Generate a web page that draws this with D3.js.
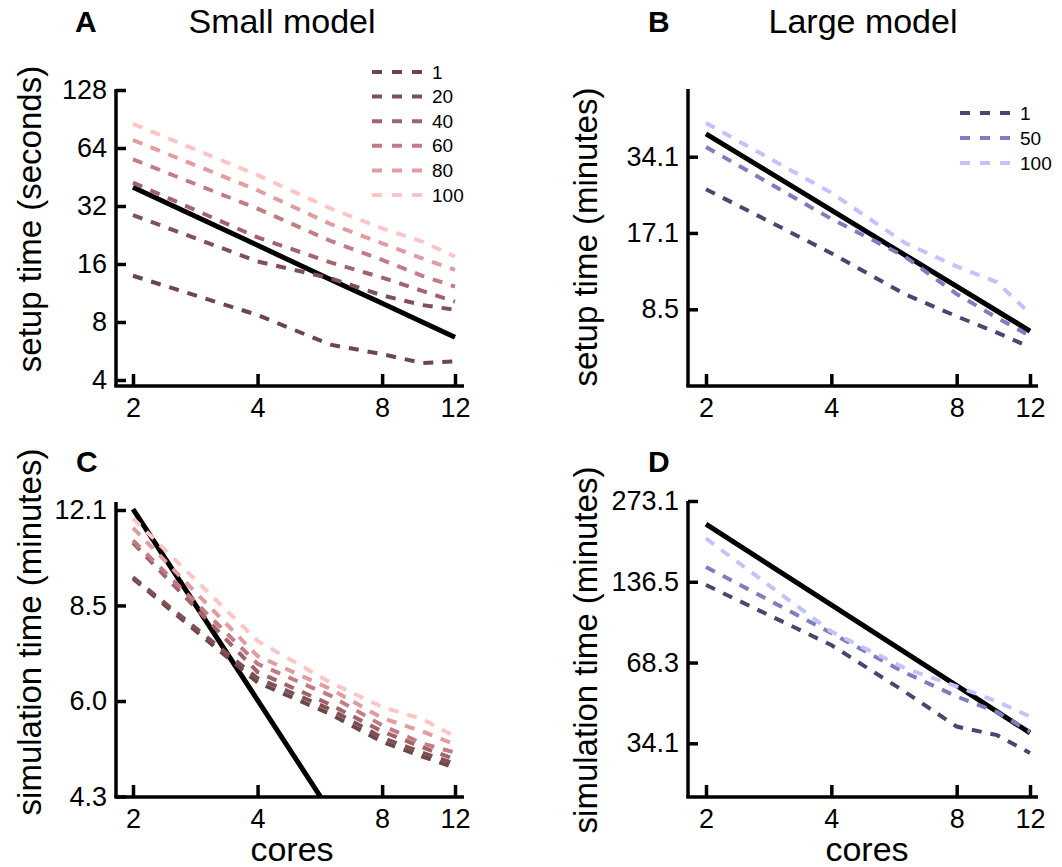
<!DOCTYPE html>
<html>
<head>
<meta charset="utf-8">
<script src="https://cdn.jsdelivr.net/npm/d3@7"></script>
<style>
  body { margin: 0; background: #fff; }
  svg text { font-family: "Liberation Sans", Arial, Helvetica, sans-serif; fill: #000; }
</style>
</head>
<body>
<svg id="fig" width="1062" height="867"></svg>
<script>
var cores = [2, 4, 6, 8, 10, 12];
var coreTicks = [2, 4, 8, 12];

// small model: one row per load level (legend order)
var smallLoads = ["1", "20", "40", "60", "80", "100"];
var smallColors = ["#6d4649", "#7f5054", "#a3636a", "#c37c81", "#e29b9f", "#ffc4c4"];

var smallSetup = [   // seconds
    [13.9, 8.7, 6.1, 5.45, 4.9, 5.0],
    [28.7, 16.5, 13.5, 11.0, 9.8, 9.25],
    [42.3, 22.0, 16.3, 13.6, 11.6, 10.2],
    [55.9, 31.0, 21.1, 16.8, 13.9, 12.2],
    [70.4, 38.6, 25.8, 20.5, 17.1, 14.9],
    [85.3, 46.3, 31.1, 24.5, 20.9, 17.5]];
var smallSetupIdeal = [40, 20, 13.3, 10, 8, 6.67];
var smallSetupTicks = [4, 8, 16, 32, 64, 128];

var smallSim = [     // minutes
    [9.4, 6.45, 5.75, 5.2, 4.93, 4.73],
    [9.45, 6.55, 5.85, 5.28, 5.0, 4.8],
    [10.7, 6.7, 5.95, 5.4, 5.1, 4.88],
    [10.8, 6.9, 6.15, 5.52, 5.17, 5.0],
    [11.3, 7.1, 6.3, 5.67, 5.4, 5.15],
    [11.7, 7.5, 6.45, 5.9, 5.65, 5.3]];
var smallSimIdeal = [12.1, 6.05, 4.03, 3.03, 2.42, 2.02];
var smallSimTicks = [4.264, 6.03, 8.53, 12.06];

// large model
var largeLoads = ["1", "50", "100"];
var largeColors = ["#474770", "#7e7ebf", "#c2c2ff"];

var largeSetup = [   // minutes
    [25.4, 14.2, 9.8, 8.0, 6.9, 6.05],
    [37.3, 19.4, 13.8, 9.8, 7.9, 6.7],
    [46.4, 24.6, 15.6, 12.6, 10.9, 8.2]];
var largeSetupIdeal = [42, 21, 14, 10.5, 8.4, 7.0];
var largeSetupTicks = [8.53, 17.07, 34.13];

var largeSim = [     // minutes
    [132.8, 79.3, 53.2, 39.4, 36.6, 31.4],
    [155, 87.9, 62.7, 51.0, 44.6, 37.7],
    [198, 89, 65.1, 55.6, 48.9, 42.9]];
var largeSimIdeal = [224, 112, 74.7, 56, 44.8, 37.3];
var largeSimTicks = [34.13, 68.26, 136.53, 273.06];

var svg = d3.select("#fig");

var panels = [
    {letter: "A", title: "Small model", yLabel: "setup time (seconds)",
     frame: {left: 116, top: 89, right: 464, bottom: 386},
     xRange: [133, 455], yDomain: [4, 128], yRange: [380, 90],
     yTicks: smallSetupTicks, fmt: d3.format("d"),
     series: smallSetup, ideal: smallSetupIdeal, colors: smallColors,
     legend: {labels: smallLoads, x: 372, y: 72, step: 24.6},
     letterPos: [75, 32], titlePos: [282, 33], yLabelPos: [41, 219]},
    {letter: "B", title: "Large model", yLabel: "setup time (minutes)",
     frame: {left: 688, top: 89, right: 1038, bottom: 386},
     xRange: [706, 1030], yDomain: [8.53, 34.13], yRange: [309.3, 156.7],
     yTicks: largeSetupTicks, fmt: d3.format(".1f"),
     series: largeSetup, ideal: largeSetupIdeal, colors: largeColors,
     legend: {labels: largeLoads, x: 960, y: 113, step: 25},
     letterPos: [648, 32], titlePos: [863, 33], yLabelPos: [597, 237]},
    {letter: "C", yLabel: "simulation time (minutes)",
     frame: {left: 116, top: 502, right: 464, bottom: 797},
     xRange: [133, 455], yDomain: [4.264, 12.06], yRange: [796.5, 510],
     yTicks: smallSimTicks, fmt: d3.format(".1f"),
     series: smallSim, ideal: smallSimIdeal, colors: smallColors,
     letterPos: [76, 472], yLabelPos: [41, 632], xLabelPos: [292, 861]},
    {letter: "D", yLabel: "simulation time (minutes)",
     frame: {left: 688, top: 501, right: 1038, bottom: 797},
     xRange: [706, 1030], yDomain: [34.13, 273.06], yRange: [743.3, 501],
     yTicks: largeSimTicks, fmt: d3.format(".1f"),
     series: largeSim, ideal: largeSimIdeal, colors: largeColors,
     letterPos: [648, 472], yLabelPos: [597, 650], xLabelPos: [867, 861]}
];

var drawPanel = function (p) {
    var f = p.frame;
    var x = d3.scaleLog().domain([2, 12]).range(p.xRange);
    var y = d3.scaleLog().domain(p.yDomain).range(p.yRange);
    var g = svg.append("g");

    var clipId = "clip" + p.letter;
    svg.append("clipPath").attr("id", clipId)
        .append("rect")
        .attr("x", f.left).attr("y", f.top)
        .attr("width", f.right - f.left).attr("height", f.bottom - f.top);

    var line = d3.line()
        .x(function (d, i) { return x(cores[i]); })
        .y(function (d) { return y(d); });

    var plot = g.append("g").attr("clip-path", "url(#" + clipId + ")");

    // ideal speed-up
    plot.append("path")
        .datum(p.ideal)
        .attr("d", line)
        .attr("fill", "none")
        .attr("stroke", "#000")
        .attr("stroke-width", 5);

    plot.selectAll("path.run")
        .data(p.series)
        .enter().append("path")
        .attr("class", "run")
        .attr("d", line)
        .attr("fill", "none")
        .attr("stroke", function (d, i) { return p.colors[i]; })
        .attr("stroke-width", 4)
        .attr("stroke-dasharray", "10,9");

    // axes: inward ticks, spines drawn separately
    var yAxis = g.append("g")
        .attr("transform", "translate(" + f.left + ",0)")
        .call(d3.axisLeft(y).tickValues(p.yTicks).tickFormat(p.fmt)
            .tickSize(-10).tickPadding(9));
    var xAxis = g.append("g")
        .attr("transform", "translate(0," + f.bottom + ")")
        .call(d3.axisBottom(x).tickValues(coreTicks).tickFormat(d3.format("d"))
            .tickSize(-12).tickPadding(12));

    [yAxis, xAxis].forEach(function (a) {
        a.select(".domain").remove();
        a.attr("font-family", null).attr("font-size", 27);
        a.selectAll("line").attr("stroke", "#000").attr("stroke-width", 3.5);
    });

    g.append("line")
        .attr("x1", f.left).attr("x2", f.left)
        .attr("y1", f.top).attr("y2", f.bottom)
        .attr("stroke", "#000").attr("stroke-width", 3.5);
    g.append("line")
        .attr("x1", f.left - 1.75).attr("x2", f.right)
        .attr("y1", f.bottom).attr("y2", f.bottom)
        .attr("stroke", "#000").attr("stroke-width", 3.5);

    // texts
    g.append("text")
        .attr("x", p.letterPos[0]).attr("y", p.letterPos[1])
        .attr("font-size", 30).attr("font-weight", "bold")
        .text(p.letter);

    if (p.title) {
        g.append("text")
            .attr("x", p.titlePos[0]).attr("y", p.titlePos[1])
            .attr("text-anchor", "middle").attr("font-size", 34)
            .text(p.title);
    }

    g.append("text")
        .attr("transform", "translate(" + p.yLabelPos[0] + "," + p.yLabelPos[1] + ") rotate(-90)")
        .attr("text-anchor", "middle").attr("font-size", 33)
        .text(p.yLabel);

    if (p.xLabelPos) {
        g.append("text")
            .attr("x", p.xLabelPos[0]).attr("y", p.xLabelPos[1])
            .attr("text-anchor", "middle").attr("font-size", 34)
            .text("cores");
    }

    if (p.legend) {
        var lg = g.append("g")
            .attr("transform", "translate(" + p.legend.x + "," + p.legend.y + ")");
        var rows = lg.selectAll("g")
            .data(p.legend.labels)
            .enter().append("g")
            .attr("transform", function (d, i) { return "translate(0," + i * p.legend.step + ")"; });
        rows.append("line")
            .attr("x1", 0).attr("x2", 50)
            .attr("stroke", function (d, i) { return p.colors[i]; })
            .attr("stroke-width", 4)
            .attr("stroke-dasharray", "10,10");
        rows.append("text")
            .attr("x", 60).attr("dy", "0.35em")
            .attr("font-size", 19)
            .text(function (d) { return d; });
    }
};

panels.forEach(drawPanel);
</script>
</body>
</html>
